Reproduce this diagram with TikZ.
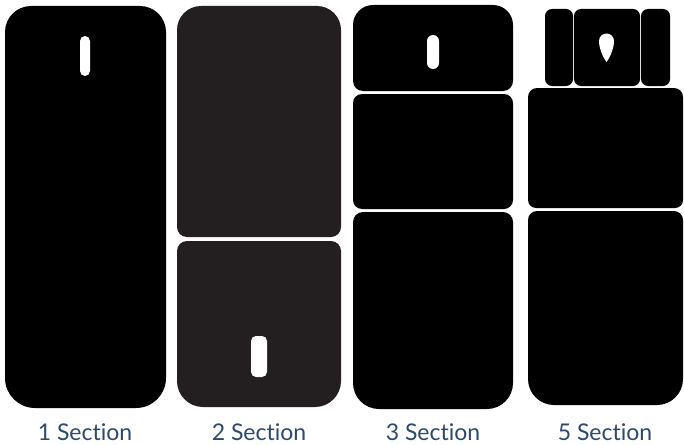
\documentclass[tikz,border=0pt]{standalone}
\usepackage{fontspec}
\setmainfont[RawFeature={-liga;-dlig;-calt}]{Lato}
\definecolor{labelblue}{HTML}{2C4A6E}
\definecolor{panelgray}{HTML}{231F20}
% one piece of a pad: x1 y1 x2 y2, top radius, bottom radius
\newcommand\padpiece[7][black]{%
  \fill[#1] (#2,{(#3+#5)/2}) [rounded corners=#6] -- (#2,#3) -- (#4,#3) -- (#4,{(#3+#5)/2})
    [rounded corners=#7] -- (#4,#5) -- (#2,#5) -- cycle;}

\begin{document}
\begin{tikzpicture}[x=1pt, y=-1pt,
  slot/.style={fill=white, rounded corners=5pt},
  caption/.style={font=\fontsize{23}{27}\selectfont, text=labelblue, inner sep=0pt, anchor=base}]
  \useasboundingbox (0,0) rectangle (684,444);

  % 1 section
  \padpiece{5}{6}{166}{408}{26pt}{30pt}
  \fill[slot] (80,36) rectangle (90,76);

  % 2 section
  \padpiece[panelgray]{177}{6}{341}{237}{24pt}{10pt}
  \padpiece[panelgray]{177}{241}{341}{407}{10pt}{26pt}
  \fill[slot] (251,336) rectangle (267,377);

  % 3 section
  \padpiece{353}{5}{513}{91}{20pt}{10pt}
  \padpiece{353}{94}{513}{209}{9pt}{9pt}
  \padpiece{353}{212}{513}{409}{10pt}{26pt}
  \fill[slot, rounded corners=6pt] (427,35) rectangle (439,69);

  % 5 section
  \padpiece{545}{9}{573}{86}{7pt}{7pt}
  \padpiece{574}{9}{640}{86}{7pt}{7pt}
  \padpiece{641}{9}{670}{86}{7pt}{7pt}
  \fill[white] (606.5,62) .. controls (602,56) and (599,47) .. (599,41)
    arc (180:360:7.5) .. controls (614,47) and (611,56) .. (606.5,62);
  \padpiece{528}{88}{683}{208}{9pt}{8pt}
  \padpiece{528}{211}{683}{405}{9pt}{26pt}

  \node[caption] (one) at (85,440) {1 Section};
  \node[caption] (two) at (259,440) {2 Section};
  \node[caption] (three) at (433,440) {3 Section};
  \node[caption] (five) at (605,440) {5 Section};
\end{tikzpicture}
\end{document}
